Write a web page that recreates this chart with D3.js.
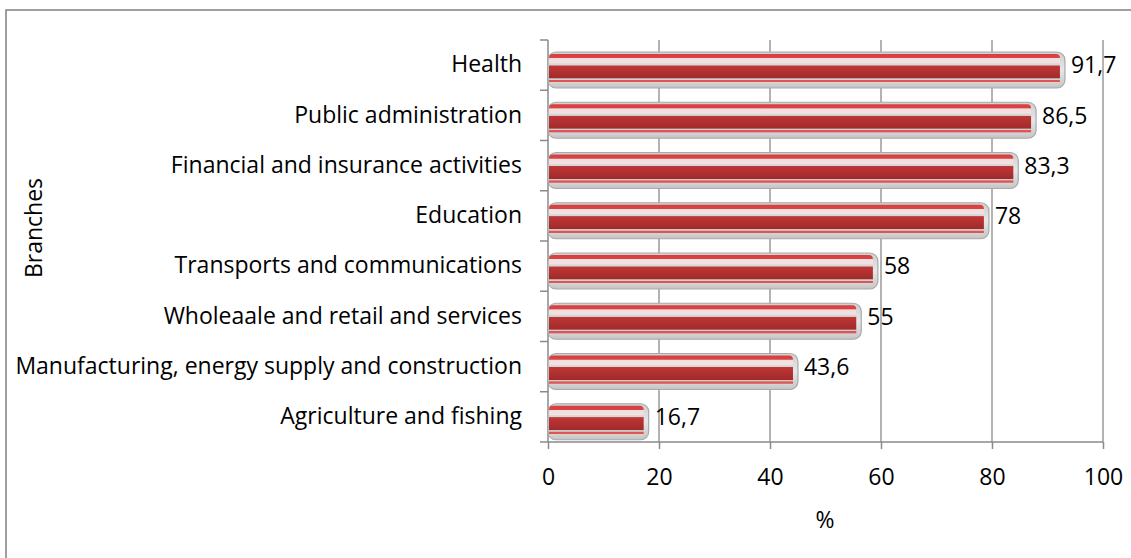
<!DOCTYPE html>
<html><head><meta charset="utf-8">
<script src="https://cdn.jsdelivr.net/npm/d3@7"></script>
<style>body{margin:0;background:#fff}svg{display:block}text{font-family:"Open Sans",sans-serif;fill:#000}</style>
</head><body>
<script>
const categories = ["Health","Public administration","Financial and insurance activities","Education","Transports and communications","Wholeaale and retail and services","Manufacturing, energy supply and construction","Agriculture and fishing"];
const values = [91.7,86.5,83.3,78,58,55,43.6,16.7];
const valueLabels = ["91,7","86,5","83,3","78","58","55","43,6","16,7"];
const xTicks = [0,20,40,60,80,100];
const xTitle = "%";
const yTitle = "Branches";

const W=1131,H=558,FS=23;
const svg=d3.select("body").append("svg").attr("width",W).attr("height",H);
const x=d3.scaleLinear().domain([0,100]).range([548,1103]);
const y=d3.scaleBand().domain(categories).range([40,442]);

svg.append("rect").attr("x",6).attr("y",10).attr("width",1200).attr("height",700)
  .attr("fill","none").attr("stroke","#888").attr("stroke-width",1.6);

const defs=svg.append("defs");
const g1=defs.append("linearGradient").attr("id","core").attr("x1",0).attr("y1",0).attr("x2",0).attr("y2",1);
[[0,"#d63f3f"],[0.12,"#d94444"],[0.14,"#f4dcdc"],[0.28,"#f1e2e2"],[0.3,"#d9d9d9"],[0.35,"#d6d6d6"],[0.37,"#bf3636"],[0.75,"#a22a2a"],[0.77,"#c6c6c6"],[0.8,"#d2d2d2"],[0.82,"#e05454"],[0.87,"#e05454"],[0.89,"#d4d4d4"],[1,"#c9c9c9"]]
 .forEach(([o,c])=>g1.append("stop").attr("offset",o).attr("stop-color",c));
const g2=defs.append("linearGradient").attr("id","shell").attr("x1",0).attr("y1",0).attr("x2",0).attr("y2",1);
[[0,"#cfcfcf"],[0.5,"#e6e6e6"],[1,"#c4c4c4"]].forEach(([o,c])=>g2.append("stop").attr("offset",o).attr("stop-color",c));

svg.append("g").selectAll("line").data(xTicks.slice(1)).join("line")
  .attr("x1",d=>x(d)).attr("x2",d=>x(d)).attr("y1",40).attr("y2",442)
  .attr("stroke","#8a8a8a").attr("stroke-width",1.3);

svg.append("line").attr("x1",548).attr("x2",548).attr("y1",40).attr("y2",442).attr("stroke","#8a8a8a").attr("stroke-width",1.5);
const bounds=[...categories.map(c=>y(c)),442];
svg.append("g").selectAll("line").data(bounds).join("line")
  .attr("x1",540).attr("x2",548).attr("y1",d=>d).attr("y2",d=>d).attr("stroke","#8a8a8a").attr("stroke-width",1.5);
const xa=svg.append("g").attr("transform","translate(0,442)")
  .call(d3.axisBottom(x).tickValues(xTicks).tickSize(7).tickPadding(20));
xa.select(".domain").attr("d","M548,0H1103").attr("stroke","#8a8a8a").attr("stroke-width",1.5);
xa.selectAll(".tick line").attr("stroke","#8a8a8a").attr("stroke-width",1.5);
xa.selectAll(".tick text").attr("font-size",FS).attr("font-family","Open Sans,sans-serif").attr("fill","#000");

const bars=svg.append("g").selectAll("g").data(categories).join("g");
bars.append("rect").attr("x",x(0)).attr("y",c=>y(c)+12).attr("height",36)
  .attr("width",(c,i)=>x(values[i])-x(0)+8).attr("rx",8)
  .attr("fill","url(#shell)").attr("stroke","#a9a9a9").attr("stroke-width",1.2);
bars.append("rect").attr("x",x(0)+1).attr("y",c=>y(c)+14).attr("height",32)
  .attr("width",(c,i)=>x(values[i])-x(0)+2).attr("rx",4)
  .attr("fill","url(#core)");

svg.append("g").selectAll("text").data(categories).join("text")
  .attr("x",(c,i)=>x(values[i])+14).attr("y",c=>y(c)+y.bandwidth()/2+2)
  .attr("dominant-baseline","middle").attr("font-size",FS).text((c,i)=>valueLabels[i]);

svg.append("g").selectAll("text").data(categories).join("text")
  .attr("x",522).attr("y",c=>y(c)+y.bandwidth()/2+1).attr("text-anchor","end")
  .attr("dominant-baseline","middle").attr("font-size",FS).text(c=>c);

svg.append("text").attr("x",825).attr("y",522).attr("text-anchor","middle").attr("dominant-baseline","middle").attr("font-size",FS).text(xTitle);
svg.append("text").attr("transform","translate(36,228) rotate(-90)").attr("text-anchor","middle").attr("dominant-baseline","middle").attr("font-size",FS).text(yTitle);
</script>
</body></html>
